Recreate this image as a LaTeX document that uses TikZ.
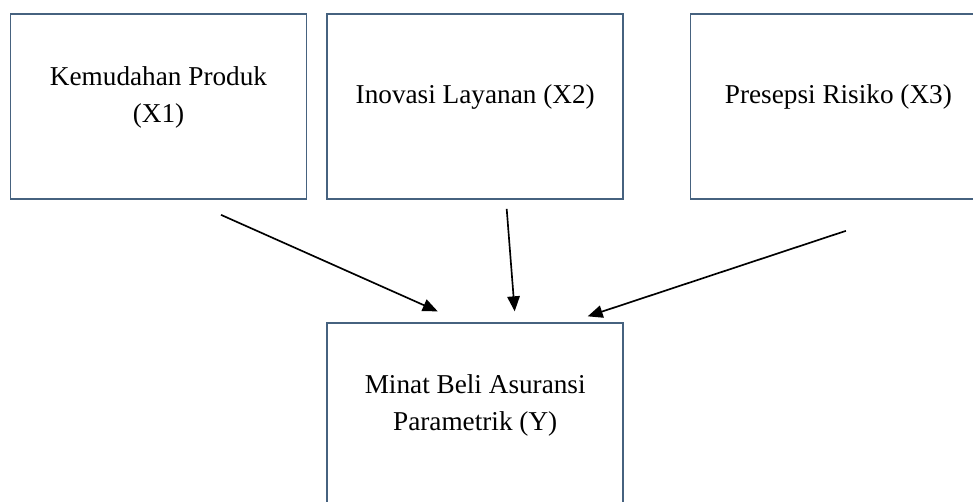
\documentclass[tikz,border=0pt]{standalone}
\usepackage{fontspec}
\setmainfont{Liberation Serif}
\usepackage{xcolor}
\usetikzlibrary{positioning,arrows.meta}
\definecolor{boxline}{HTML}{46627F}

\begin{document}
\begin{tikzpicture}[x=0.02cm, y=-0.02cm, node distance=0.38cm,
    block/.style={rectangle, draw=boxline, line width=1pt, minimum width=5.92cm, minimum height=3.7cm, inner sep=0pt},
    txt/.style={align=center, font=\fontsize{15.5}{21}\selectfont},
    line/.style={draw, -{Triangle[length=0.3cm,width=0.25cm]}, line width=0.95pt}]

    \useasboundingbox (0,0) rectangle (973,502);
    \clip (0,0) rectangle (973,502);

    % Nodes
    \node [block] (x1) at (158.5,106.5) {};
    \node [block, right=of x1] (x2) {};
    \node [block, right=1.31cm of x2] (x3) {};
    \node [block, below=2.45cm of x2] (y) {};

    % Texts
    \node [txt] (x1text) at ([yshift=0.18cm]x1.center) {Kemudahan Produk\\(X1)};
    \node [txt] (x2text) at ([yshift=0.2cm]x2.center) {Inovasi Layanan (X2)};
    \node [txt] (x3text) at ([yshift=0.2cm]x3.center) {Presepsi Risiko (X3)};
    \node [txt] (ytext) at ([yshift=0.2cm]y.center) {Minat Beli Asuransi\\Parametrik (Y)};

    % Arrow ends
    \coordinate (x1out) at ([shift={(62.5,15)}]x1.south);
    \coordinate (x2out) at ([shift={(31.5,9)}]x2.south);
    \coordinate (x3out) at ([shift={(7.5,31)}]x3.south);
    \coordinate (yin1) at ([shift={(-37.5,-11)}]y.north);
    \coordinate (yin2) at ([shift={(39.5,-11)}]y.north);
    \coordinate (yin3) at ([shift={(112.5,-6)}]y.north);

    % Paths
    \path [line] (x1out) -- (yin1);
    \path [line] (x2out) -- (yin2);
    \path [line] (x3out) -- (yin3);

\end{tikzpicture}
\end{document}
